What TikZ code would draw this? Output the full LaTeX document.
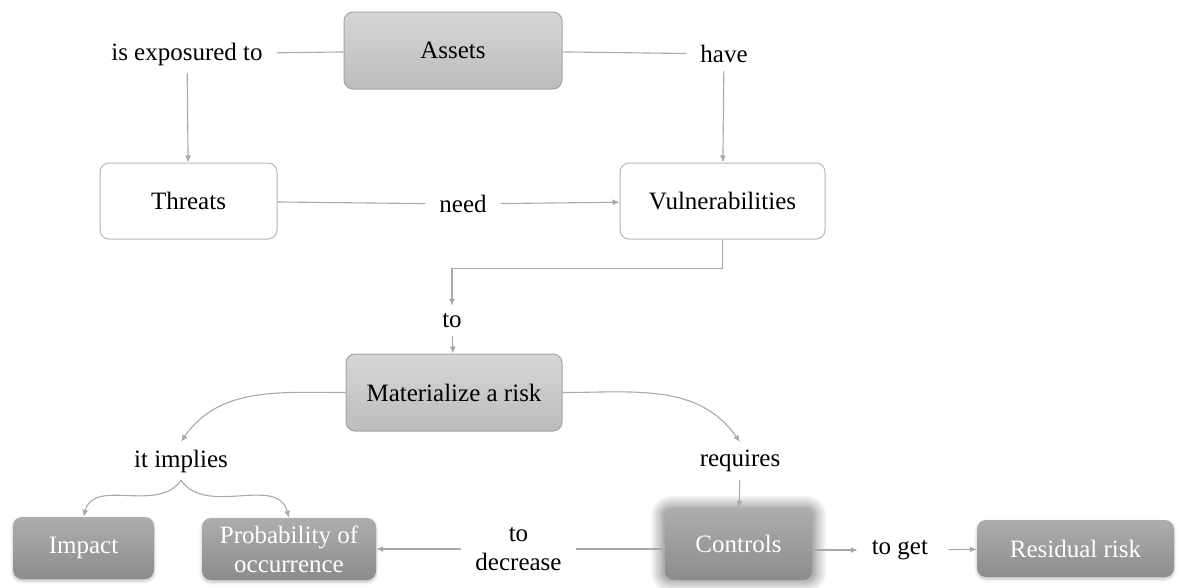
\documentclass[tikz,border=0pt]{standalone}
\usepackage{fontspec}
\setmainfont{Liberation Serif}
\usepackage{tikz}
\usetikzlibrary{arrows.meta}
\usetikzlibrary{calc}
\usetikzlibrary{shadows.blur}
\definecolor{linkgray}{HTML}{A9A9A9}
\definecolor{plainline}{HTML}{B8B8B8}
\definecolor{lightline}{HTML}{A4A4A4}
\definecolor{lighttop}{HTML}{D6D6D6}
\definecolor{lightbot}{HTML}{BCBCBC}
\definecolor{darktop}{HTML}{ADADAD}
\definecolor{darkbot}{HTML}{8C8C8C}
\newcommand{\MAPFONT}{\fontsize{25}{29}\selectfont}
\tikzset{basic box/.style={rounded corners=9pt,
                           inner sep=0pt,
                           align=center,
                           font=\MAPFONT}}
\tikzset{plain box/.style={basic box,draw=plainline,line width=1pt,fill=white}}
\tikzset{light box/.style={basic box,draw=lightline,line width=1pt,
                           top color=lighttop,bottom color=lightbot}}
\tikzset{dark box/.style={basic box,top color=darktop,bottom color=darkbot,
                          text=white,
                          blur shadow={shadow xshift=0pt,shadow yshift=-2pt,
                                       shadow blur radius=3pt,shadow opacity=25}}}
\tikzset{glow/.style={blur shadow={shadow xshift=0pt,shadow yshift=0pt,
                                   shadow scale=1.05,
                                   shadow blur radius=11pt,
                                   shadow blur steps=12,
                                   shadow blur extra rounding=6pt,
                                   shadow opacity=28}}}
\tikzset{phrase/.style={inner xsep=12pt,inner ysep=6pt,outer sep=2pt,
                        align=center,font=\MAPFONT}}
\tikzset{link/.style={draw=linkgray,line width=1.1pt}}
\tikzset{link arrow/.style={link,-{Latex[length=7pt,width=6pt]}}}

\begin{document}
\begin{tikzpicture}
      [
      x=1pt,y=-1pt,
      ]
      \useasboundingbox (0,0) rectangle (1177,587);

      % concepts
      \node [light box,minimum width=218,minimum height=77] (assets) at (453,50.5) {Assets};
      \node [plain box,minimum width=177,minimum height=76] (threats) at (188.5,201) {Threats};
      \node [plain box,minimum width=205,minimum height=76] (vuln) at (722.5,201) {Vulnerabilities};
      \node [light box,minimum width=216,minimum height=77] (risk) at (454,392.5) {Materialize a risk};
      \node [dark box,minimum width=141,minimum height=62] (impact) at (83.5,548) {Impact};
      \node [dark box,minimum width=174,minimum height=62] (prob) at (289,549) {Probability of\\occurrence};
      \node [dark box,glow,minimum width=147,minimum height=72] (controls) at (738.5,544) {Controls};
      \node [dark box,minimum width=197,minimum height=57] (residual) at (1075.5,548.5) {Residual risk};

      % linking words
      \foreach \n/\x/\y/\t in
      {
      exposed/187/54/is exposured to,
      have/724/54/have,
      need/463/204/need,
      towards/452/321/to,
      implies/181/461/it implies,
      requires/740/461/requires,
      decrease/518.5/549/to\\decrease,
      toget/903/550/to get
      }
      {
      \node [phrase] (\n) at (\x,\y) {\t};
      }

      % connections
      \path [link] (assets) -- (exposed);
      \path [link arrow] (exposed) -- (threats);
      \path [link] (assets) -- (have);
      \path [link arrow] (have) -- (vuln);
      \path [link] (threats) -- (need);
      \path [link arrow] (need) -- (vuln);
      \path [link arrow] (vuln.south) -- ++(0,29) -| (towards.north);
      \path [link arrow] (towards) -- (risk);
      \path [link arrow] (risk.west) to [out=180,in=55] (implies.north);
      \path [link arrow] (risk.east) to [out=0,in=125] (requires.north);
      \path [link arrow] (implies.south) to [out=-125,in=75] (impact.north);
      \path [link arrow] (implies.south) to [out=-55,in=105] (prob.north);
      \path [link arrow] (requires) -- (controls);
      \path [link] (controls.west |- decrease) -- (decrease);
      \path [link arrow] (decrease) -- (prob);
      \path [link arrow] (controls.east |- toget) -- (toget);
      \path [link arrow] (toget) -- (residual);

\end{tikzpicture}
\end{document}
